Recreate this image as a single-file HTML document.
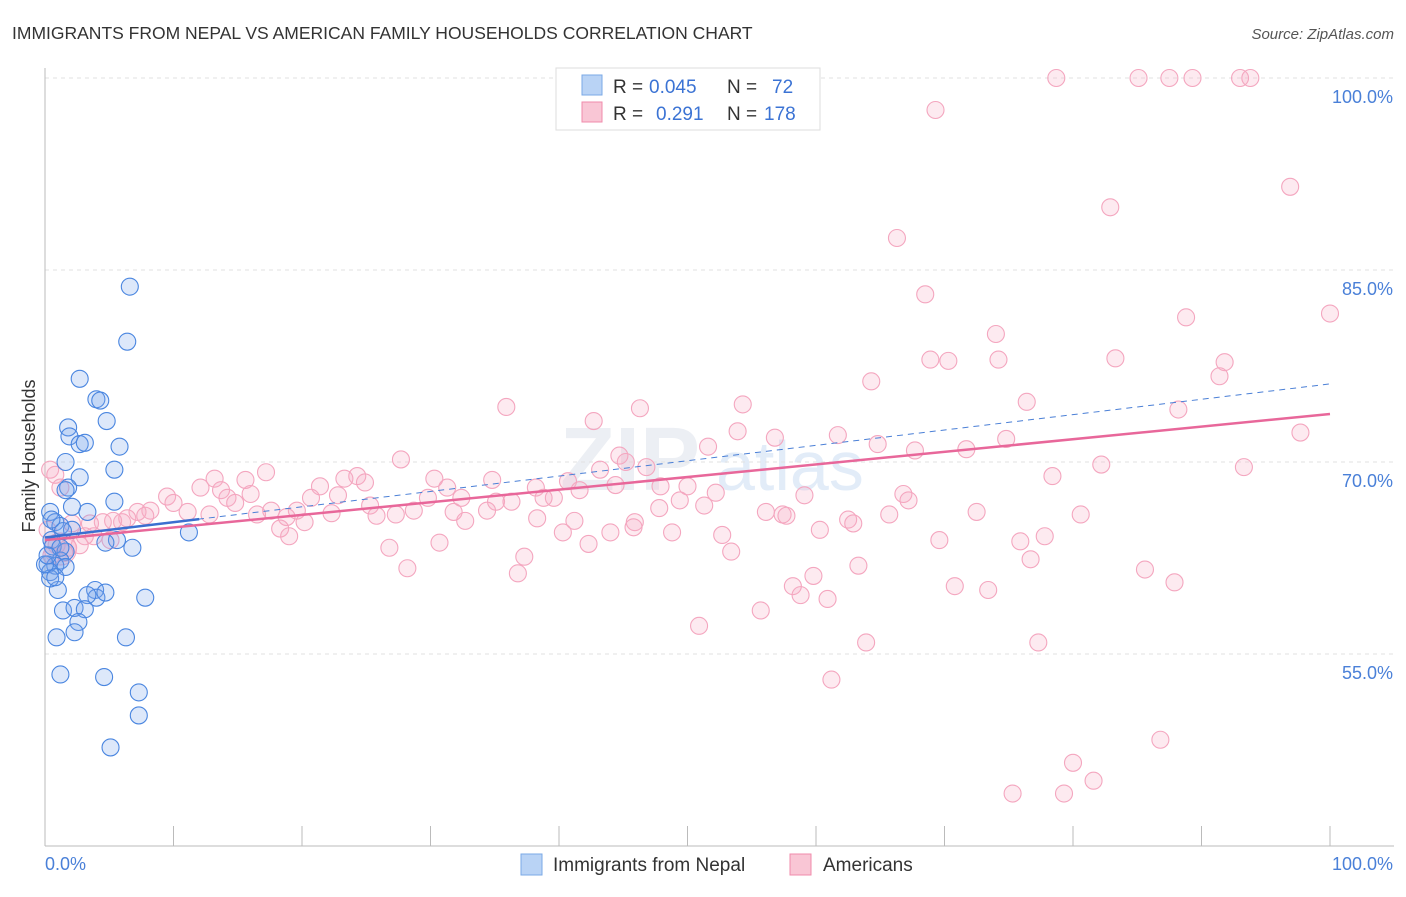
<!DOCTYPE html>
<html><head><meta charset="utf-8"><style>
body{margin:0;background:#fff;font-family:"Liberation Sans",sans-serif;}
svg text{font-family:"Liberation Sans",sans-serif;}
</style></head><body>
<svg id="chart" width="1406" height="892">
<text x="12" y="39" font-size="17.5" fill="#333">IMMIGRANTS FROM NEPAL VS AMERICAN FAMILY HOUSEHOLDS CORRELATION CHART</text>
<text x="1394" y="39" font-size="15" fill="#555" font-style="italic" text-anchor="end">Source: ZipAtlas.com</text>
<text x="35" y="456" font-size="18" fill="#333" text-anchor="middle" transform="rotate(-90 35 456)">Family Households</text>
<text x="560" y="490" font-size="90" fill="#eceff4" font-weight="bold">ZIP</text>
<text x="716" y="490" font-size="70" fill="#e2ecf8">atlas</text>
<g id="grid"></g>
<g id="axes"></g>
<g id="pts"></g>
<g id="trends"></g>
<g>
<rect x="556" y="68" width="264" height="62" fill="#fff" stroke="#ddd"/>
<rect x="582" y="75" width="20" height="20" fill="#b9d3f5" stroke="#7aa8e6"/>
<rect x="582" y="102" width="20" height="20" fill="#f9c6d5" stroke="#f08bab"/>
<text x="613" y="93" font-size="19" fill="#333">R =</text>
<text x="649" y="93" font-size="19" fill="#3b73d4">0.045</text>
<text x="727" y="93" font-size="19" fill="#333">N =</text>
<text x="772" y="93" font-size="19" fill="#3b73d4">72</text>
<text x="613" y="120" font-size="19" fill="#333">R =</text>
<text x="656" y="120" font-size="19" fill="#3b73d4">0.291</text>
<text x="727" y="120" font-size="19" fill="#333">N =</text>
<text x="764" y="120" font-size="19" fill="#3b73d4">178</text>
</g>
<g>
<rect x="521" y="854" width="21" height="21" fill="#b9d3f5" stroke="#7aa8e6"/>
<text x="553" y="871" font-size="19" fill="#333">Immigrants from Nepal</text>
<rect x="790" y="854" width="21" height="21" fill="#f9c6d5" stroke="#f08bab"/>
<text x="823" y="871" font-size="19" fill="#333">Americans</text>
</g>
</svg>
<script>
const yTicks=[55,70,85,100];
const yTickLabels=["55.0%","70.0%","85.0%","100.0%"];
const xTickLabels=["0.0%","100.0%"];
const blueX=[6.6,6.4,2.7,4.0,4.3,4.8,1.8,1.9,2.7,3.1,5.8,1.6,2.7,5.4,1.8,1.6,2.1,5.4,3.3,0.4,0.8,1.2,2.1,1.4,11.2,5.6,0.5,0.6,1.6,6.8,4.7,1.2,0.2,0.8,0.4,1.6,1.0,3.9,4.0,3.3,4.7,7.8,1.4,2.3,3.1,2.6,2.3,0.9,6.3,1.2,4.6,7.3,7.3,5.1,0.4,0.8,1.2,0.0,0.2,0.5];
const blueY=[83.7,79.4,76.5,74.9,74.8,73.2,72.7,72.0,71.4,71.5,71.2,70.0,68.8,69.4,68.0,67.8,66.5,66.9,66.1,66.1,65.3,65.0,64.7,64.6,64.5,63.9,63.9,63.4,63.0,63.3,63.7,62.3,62.0,61.9,61.4,61.8,60.0,60.0,59.4,59.6,59.8,59.4,58.4,58.6,58.5,57.5,56.7,56.3,56.3,53.4,53.2,52.0,50.2,47.7,60.9,61.0,63.3,62.0,62.7,65.5];
const pinkX=[78.7,85.1,87.5,89.3,93.0,93.8,69.3,96.9,82.9,66.3,68.5,100,88.8,74.0,68.9,70.3,74.2,83.3,91.8,64.3,91.4,76.4,88.2,35.9,54.3,46.3,42.7,53.9,56.8,61.7,97.7,64.8,51.6,74.8,71.7,67.7,44.7,45.2,46.8,27.7,82.2,93.3,43.2,17.2,13.2,15.6,30.3,24.3,23.3,24.9,34.8,40.7,21.4,41.6,44.4,47.9,50.0,78.4,12.1,13.7,31.3,38.2,52.2,59.1,66.8,16.0,14.2,9.5,10.0,20.7,22.8,29.8,32.4,35.1,39.6,36.3,38.8,49.4,67.2,14.8,17.6,19.6,8.2,11.1,12.8,7.2,7.8,16.5,18.8,22.3,25.3,28.7,31.8,34.4,47.8,51.3,56.1,57.4,57.7,65.7,72.5,80.6,25.8,27.3,32.7,38.3,41.2,45.9,62.5,62.9,6.0,5.3,4.5,3.5,6.4,18.3,20.2,2.1,45.8,40.3,44.0,48.8,52.7,60.3,19.0,3.8,5.1,3.1,30.7,42.3,69.6,75.9,77.8,26.8,53.4,2.7,1.8,0.9,1.5,37.3,76.7,63.3,28.2,36.8,59.8,85.6,87.9,58.2,70.8,73.4,58.8,60.9,55.7,50.9,63.9,77.3,61.2,86.8,80.0,81.6,75.3,79.3,0.4,0.8,1.2,0.2,0.5];
const pinkY=[100,100,100,100,100,100,97.5,91.5,89.9,87.5,83.1,81.6,81.3,80.0,78.0,77.9,78.0,78.1,77.8,76.3,76.7,74.7,74.1,74.3,74.5,74.2,73.2,72.4,71.9,72.1,72.3,71.4,71.2,71.8,71.0,70.9,70.5,70.0,69.6,70.2,69.8,69.6,69.4,69.2,68.7,68.6,68.7,68.9,68.7,68.4,68.6,68.5,68.1,67.8,68.2,68.1,68.1,68.9,68.0,67.8,68.0,68.0,67.6,67.4,67.5,67.5,67.2,67.3,66.8,67.2,67.4,67.2,67.2,66.9,67.2,66.9,67.2,67.0,67.0,66.8,66.2,66.2,66.2,66.1,65.9,66.1,65.8,65.9,65.7,66.0,66.6,66.2,66.1,66.2,66.4,66.6,66.1,65.9,65.8,65.9,66.1,65.9,65.8,65.9,65.4,65.6,65.4,65.3,65.5,65.2,65.3,65.4,65.3,65.2,65.6,64.8,65.3,65.2,64.9,64.5,64.5,64.5,64.3,64.7,64.2,64.2,63.9,64.2,63.7,63.6,63.9,63.8,64.2,63.3,63.0,63.5,63.3,63.5,62.9,62.6,62.4,61.9,61.7,61.3,61.1,61.6,60.6,60.3,60.3,60.0,59.6,59.3,58.4,57.2,55.9,55.9,53.0,48.3,46.5,45.1,44.1,44.1,69.4,69.0,68.0,64.7,62.7];
const blueTrend=[64.1,76.1];
const pinkTrend=[63.9,73.75];
const NS="http://www.w3.org/2000/svg";
const X0=45,X1=1330,Y100=78,PXPERPCT=12.8;
function sx(v){return X0+(X1-X0)*v/100;}
function sy(v){return Y100+(100-v)*PXPERPCT;}
function mk(tag,attrs,parent){const e=document.createElementNS(NS,tag);for(const k in attrs)e.setAttribute(k,attrs[k]);parent.appendChild(e);return e;}
const grid=document.getElementById('grid'),axes=document.getElementById('axes'),pts=document.getElementById('pts'),tr=document.getElementById('trends');
yTicks.forEach((t,i)=>{
 const l=mk('line',{x1:45,x2:1394,y1:sy(t),y2:sy(t),stroke:'#e2e2e2','stroke-dasharray':'4,4'},grid);
 
 
 const tx=mk('text',{x:1393,y:sy(t)+25,'font-size':18,fill:'#4a80d8','text-anchor':'end'},grid);
 tx.textContent=yTickLabels[i];
 
 
});
const ya=mk('line',{x1:45,x2:45,y1:68,y2:846,stroke:'#bbb'},axes);


const xa=mk('line',{x1:45,x2:1394,y1:846,y2:846,stroke:'#bbb'},axes);


for(let i=0;i<=10;i++){
 const t=mk('line',{x1:sx(i*10),x2:sx(i*10),y1:826,y2:846,stroke:'#bbb'},axes);
 
 
}
[[0,'start'],[100,'end']].forEach((p,i)=>{
 const tx=mk('text',{x:i?1393:45,y:870,'font-size':18,fill:'#4a80d8','text-anchor':p[1]},axes);
 tx.textContent=xTickLabels[i];
 
 
});
pinkX.forEach((x,i)=>{
 const c=mk('circle',{cx:sx(x),cy:sy(pinkY[i]),r:8.5,fill:'rgba(246,170,195,0.25)',stroke:'#f4a6bf','stroke-width':1.1},pts);
 
 
});
const big=mk('circle',{cx:sx(1.2),cy:sy(63.2),r:16,fill:'rgba(246,170,195,0.25)',stroke:'#f4a6bf'},pts);


blueX.forEach((x,i)=>{
 const c=mk('circle',{cx:sx(x),cy:sy(blueY[i]),r:8.5,fill:'rgba(120,165,235,0.25)',stroke:'#4a86e0','stroke-width':1.1},pts);
 
 
});
const bd=mk('line',{x1:sx(0),y1:sy(blueTrend[0]),x2:sx(100),y2:sy(blueTrend[1]),stroke:'#4a7fd6','stroke-width':1,'stroke-dasharray':'6,5'},tr);


const bs=mk('line',{x1:sx(0),y1:sy(blueTrend[0]),x2:sx(12),y2:sy(blueTrend[0]+(blueTrend[1]-blueTrend[0])*0.12),stroke:'#3b6fd0','stroke-width':2.5},tr);


const pl=mk('line',{x1:sx(0),y1:sy(pinkTrend[0]),x2:sx(100),y2:sy(pinkTrend[1]),stroke:'#e8679a','stroke-width':2.5},tr);


</script>
</body></html>
